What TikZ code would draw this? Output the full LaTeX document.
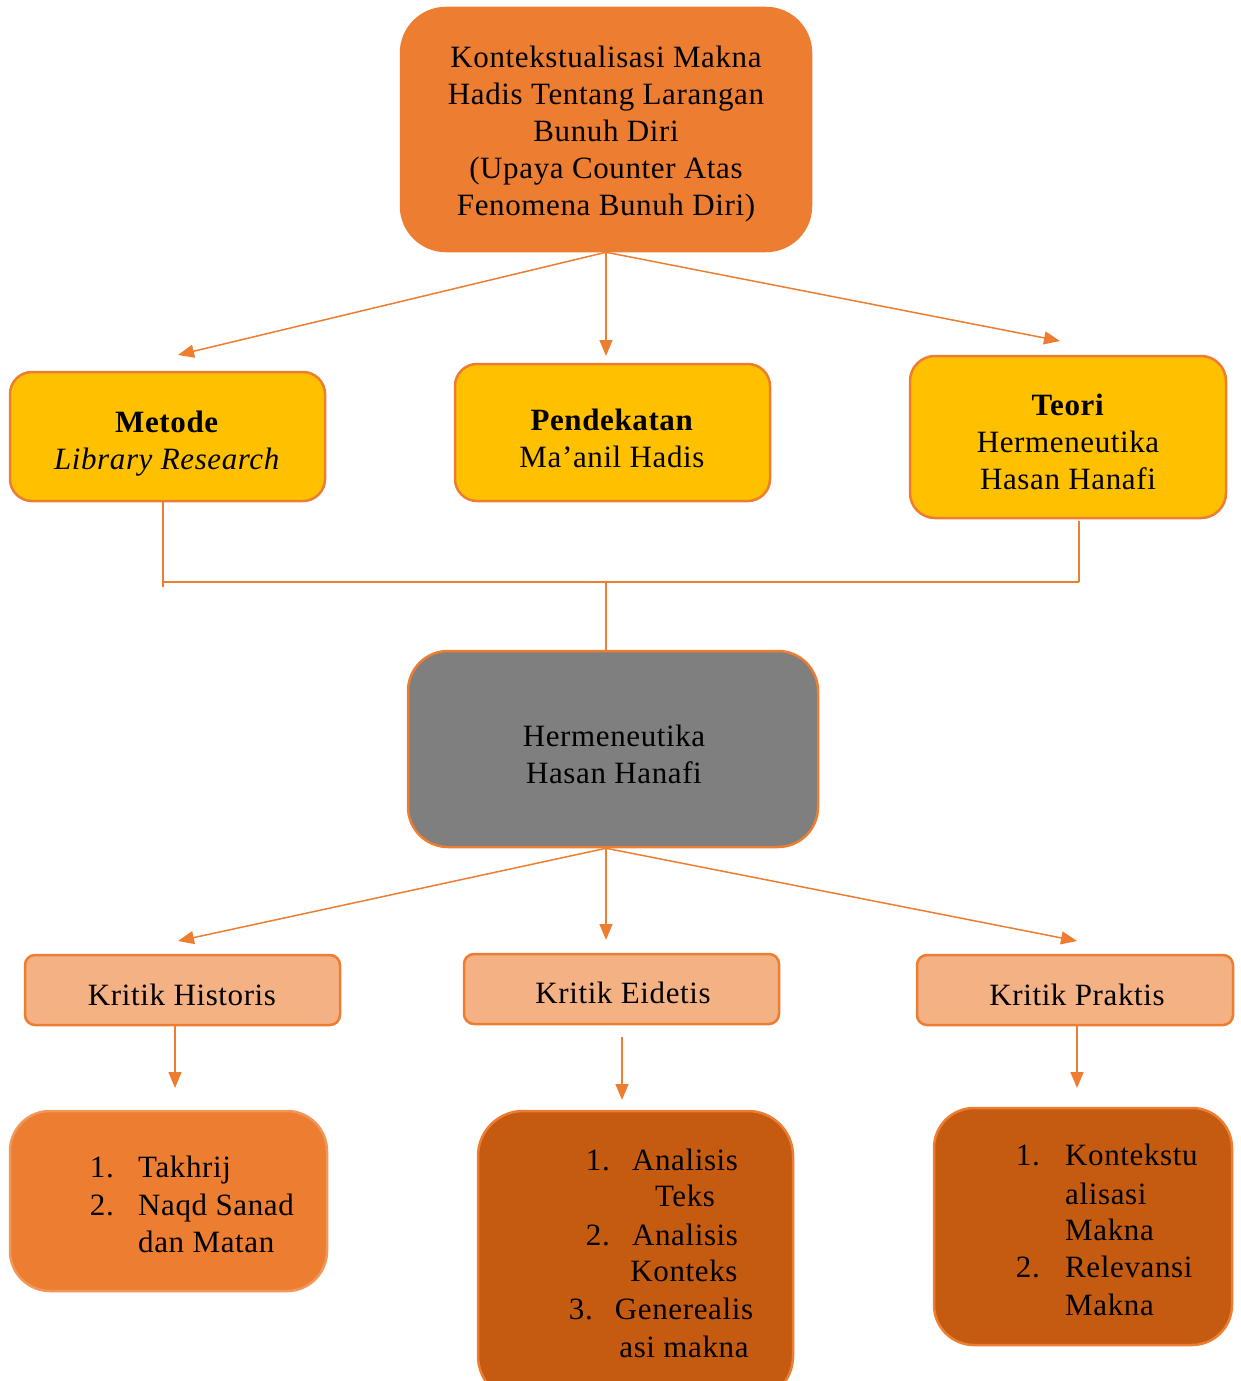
\documentclass[tikz,border=0pt]{standalone}
\usepackage{fontspec}
\setmainfont[LetterSpace=2.0]{Liberation Serif}
\usetikzlibrary{arrows.meta}
\definecolor{orng}{HTML}{ED7D31}
\definecolor{gold}{HTML}{FFC000}
\definecolor{peach}{HTML}{F4B183}
\definecolor{grayb}{HTML}{7F7F7F}
\definecolor{rust}{HTML}{C55A11}
\begin{document}
\begin{tikzpicture}[x=1pt,y=-1pt,
  txt/.style={font=\fontsize{31}{37}\selectfont, align=center, inner sep=0pt},
  box/.style={draw=orng, line width=2.5pt, inner sep=0pt},
  conn/.style={draw=orng, line width=1.5pt},
  arr/.style={conn, -{Triangle[length=16pt,width=13pt]}},
  num/.style={txt, anchor=base east},
  itm/.style={txt, anchor=base west},
  ctr/.style={txt, anchor=base}]
\useasboundingbox (0,0) rectangle (1241,1381);
% boxes
\node[box, fill=orng, rounded corners=45pt, minimum width=410pt, minimum height=243pt] (top) at (606,129.5) {};
\node[box, fill=gold, rounded corners=22pt, minimum width=315pt, minimum height=129pt] (met) at (167.5,436.5) {};
\node[box, fill=gold, rounded corners=22pt, minimum width=315pt, minimum height=137pt] (pen) at (612.5,432.5) {};
\node[box, fill=gold, rounded corners=25pt, minimum width=316pt, minimum height=162pt] (teo) at (1068,437) {};
\node[box, fill=grayb, rounded corners=40pt, minimum width=410pt, minimum height=196pt] (her) at (613,749) {};
\node[box, fill=peach, rounded corners=10pt, minimum width=315pt, minimum height=70pt] (kh) at (182.5,990) {};
\node[box, fill=peach, rounded corners=10pt, minimum width=315pt, minimum height=70pt] (ke) at (621.5,989) {};
\node[box, fill=peach, rounded corners=10pt, minimum width=316pt, minimum height=70pt] (kp) at (1075,990) {};
\node[box, draw=orng!80, fill=orng, rounded corners=40pt, minimum width=317pt, minimum height=180pt] (bl) at (168.5,1201) {};
\node[box, fill=rust, rounded corners=45pt, minimum width=315pt, minimum height=290pt] (bm) at (635.5,1256) {};
\node[box, fill=rust, rounded corners=40pt, minimum width=298pt, minimum height=237pt] (br) at (1083,1226.5) {};
% texts
\node[txt] (ttop) at (606,134) {Kontekstualisasi Makna\\Hadis Tentang Larangan\\Bunuh Diri\\(Upaya Counter Atas\\Fenomena Bunuh Diri)};
\node[txt] (tmet) at (167,443.5) {\textbf{Metode}\\\textit{Library Research}};
\node[txt] (tpen) at (612,438) {\textbf{Pendekatan}\\Ma’anil Hadis};
\node[txt] (tteo) at (1068,441.5) {\textbf{Teori}\\Hermeneutika\\Hasan Hanafi};
\node[txt] (ther) at (614,754) {Hermeneutika\\Hasan Hanafi};
\node[ctr] (tkh) at (182,1005) {Kritik Historis};
\node[ctr] (tke) at (623,1003) {Kritik Eidetis};
\node[ctr] (tkp) at (1077,1005) {Kritik Praktis};
% left list
\node[num] (l1n) at (114,1177) {1.};
\node[itm] (l1) at (138,1177) {Takhrij};
\node[num] (l2n) at (114,1215) {2.};
\node[itm] (l2) at (138,1215) {Naqd Sanad};
\node[itm] (l3) at (138,1252) {dan Matan};
% middle list
\node[num] (m1n) at (610,1170) {1.};
\node[ctr] (m1) at (685,1170) {Analisis};
\node[ctr] (m2) at (685,1206) {Teks};
\node[num] (m3n) at (610,1245) {2.};
\node[ctr] (m3) at (685,1245) {Analisis};
\node[ctr] (m4) at (684,1281) {Konteks};
\node[num] (m5n) at (593,1319) {3.};
\node[ctr] (m5) at (684,1319) {Generealis};
\node[ctr] (m6) at (684,1357) {asi makna};
% right list
\node[num] (r1n) at (1040,1165) {1.};
\node[itm] (r1) at (1065,1165) {Kontekstu};
\node[itm] (r2) at (1065,1204) {alisasi};
\node[itm] (r3) at (1065,1240) {Makna};
\node[num] (r4n) at (1040,1277) {2.};
\node[itm] (r4) at (1065,1277) {Relevansi};
\node[itm] (r5) at (1065,1315) {Makna};
% arrow ends
\coordinate (a1) at (178,355);
\coordinate (a2) at (606,356);
\coordinate (a3) at (1060,341);
\coordinate (b1) at (178,941);
\coordinate (b2) at (606,940);
\coordinate (b3) at (1077,941);
\coordinate (c1s) at (175,1026);
\coordinate (c1) at (175,1088);
\coordinate (c2s) at (622,1037);
\coordinate (c2) at (622,1100);
\coordinate (c3s) at (1077,1026);
\coordinate (c3) at (1077,1088);
\coordinate (jl) at (163,582);
\coordinate (jle) at (163,587);
\coordinate (jr) at (1079,582);
\coordinate (jm) at (606,582);
\coordinate (ms) at (163,502);
\coordinate (ts) at (1079,521);
% connectors
\draw[arr] (top.south) -- (a1);
\draw[arr] (top.south) -- (a2);
\draw[arr] (top.south) -- (a3);
\draw[conn] (ms) -- (jle);
\draw[conn] (ts) -- (jr);
\draw[conn] (jl) -- (jr);
\draw[conn] (jm) -- (jm |- her.north);
\draw[arr] (jm |- her.south) -- (b1);
\draw[arr] (jm |- her.south) -- (b2);
\draw[arr] (jm |- her.south) -- (b3);
\draw[arr] (c1s) -- (c1);
\draw[arr] (c2s) -- (c2);
\draw[arr] (c3s) -- (c3);
\end{tikzpicture}
\end{document}
